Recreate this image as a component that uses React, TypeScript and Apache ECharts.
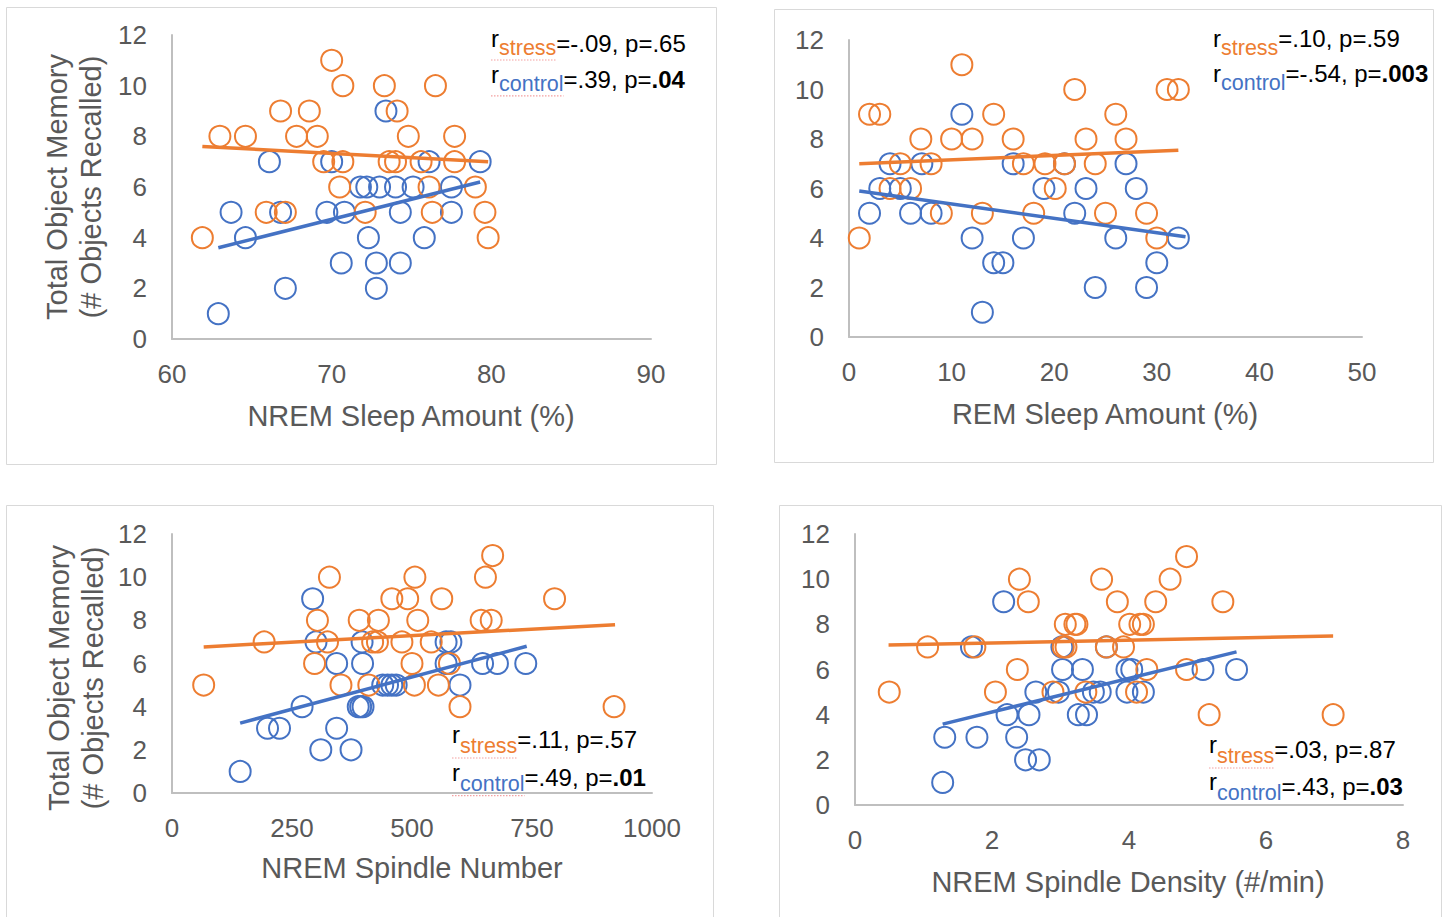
import React, { useEffect, useRef } from "react";
import * as echarts from "echarts";

const FONT = "'Liberation Sans', Arial, Helvetica, sans-serif";
const ORANGE = "#ED7D31";
const BLUE = "#4472C4";
const GRAY_TEXT = "#595959";

// ---------- Panel 1: NREM Sleep Amount (%) ----------
const nremPctStress = [
  [70.0, 11], [70.7, 10], [73.3, 10], [76.5, 10], [66.8, 9], [68.6, 9], [74.1, 9],
  [63.0, 8], [64.6, 8], [67.8, 8], [69.1, 8], [74.8, 8], [77.7, 8],
  [69.5, 7], [70.7, 7], [73.6, 7], [74.0, 7], [75.6, 7], [77.7, 7],
  [70.5, 6], [76.1, 6], [79.0, 6], [65.9, 5], [67.1, 5], [72.1, 5], [76.3, 5], [79.6, 5],
  [61.9, 4], [79.8, 4],
];
const nremPctControl = [
  [73.4, 9], [66.1, 7], [70.0, 7], [76.1, 7], [79.3, 7],
  [71.8, 6], [72.2, 6], [73.0, 6], [74.0, 6], [75.1, 6], [77.5, 6],
  [63.7, 5], [66.8, 5], [69.7, 5], [70.8, 5], [74.3, 5], [77.5, 5],
  [64.6, 4], [72.3, 4], [75.8, 4], [70.6, 3], [72.8, 3], [74.3, 3], [67.1, 2], [72.8, 2], [62.9, 1],
];
const nremPctStressTrend = [[61.9, 7.6], [79.8, 7.0]];
const nremPctControlTrend = [[62.9, 3.6], [79.3, 6.2]];

// ---------- Panel 2: REM Sleep Amount (%) ----------
const remPctStress = [
  [11.0, 11], [22.0, 10], [31.0, 10], [32.1, 10], [2.0, 9], [3.0, 9], [14.1, 9], [26.0, 9],
  [7.0, 8], [10.0, 8], [12.0, 8], [16.0, 8], [23.1, 8], [27.0, 8],
  [5.0, 7], [8.0, 7], [17.0, 7], [19.1, 7], [21.0, 7], [24.0, 7],
  [4.0, 6], [6.0, 6], [20.1, 6], [9.0, 5], [13.0, 5], [18.0, 5], [25.0, 5], [29.0, 5],
  [1.0, 4], [30.0, 4],
];
const remPctControl = [
  [11.0, 9], [4.0, 7], [7.1, 7], [16.0, 7], [21.0, 7], [27.0, 7],
  [3.0, 6], [5.0, 6], [19.0, 6], [23.1, 6], [28.0, 6],
  [2.0, 5], [6.0, 5], [8.0, 5], [22.0, 5], [12.0, 4], [17.0, 4], [26.0, 4], [32.1, 4],
  [14.1, 3], [15.0, 3], [30.0, 3], [24.0, 2], [29.0, 2], [13.0, 1],
];
const remPctStressTrend = [[1.0, 7.0], [32.1, 7.55]];
const remPctControlTrend = [[1.0, 5.9], [32.8, 4.05]];

// ---------- Panel 3: NREM Spindle Number ----------
const spindleNumStress = [
  [668, 11], [328, 10], [506, 10], [653, 10], [458, 9], [491, 9], [562, 9], [797, 9],
  [303, 8], [390, 8], [430, 8], [512, 8], [644, 8], [665, 8],
  [192, 7], [324, 7], [418, 7], [428, 7], [479, 7], [540, 7],
  [297, 6], [500, 6], [578, 6], [66, 5], [352, 5], [410, 5], [505, 5], [555, 5],
  [600, 4], [921, 4],
];
const spindleNumControl = [
  [293, 9], [300, 7], [396, 7], [571, 7], [581, 7],
  [343, 6], [397, 6], [571, 6], [647, 6], [678, 6], [737, 6],
  [439, 5], [449, 5], [458, 5], [467, 5], [600, 5],
  [271, 4], [388, 4], [393, 4], [398, 4], [199, 3], [224, 3], [343, 3],
  [310, 2], [373, 2], [142, 1],
];
const spindleNumStressTrend = [[66, 6.77], [923, 7.8]];
const spindleNumControlTrend = [[142, 3.24], [739, 6.8]];

// ---------- Panel 4: NREM Spindle Density (#/min) ----------
const spindleDenStress = [
  [4.84, 11], [2.40, 10], [3.60, 10], [4.60, 10], [2.53, 9], [3.83, 9], [4.39, 9], [5.37, 9],
  [3.07, 8], [3.21, 8], [3.24, 8], [4.01, 8], [4.16, 8], [4.21, 8],
  [1.06, 7], [1.75, 7], [3.04, 7], [3.08, 7], [3.67, 7], [3.92, 7],
  [2.37, 6], [4.26, 6], [4.84, 6], [0.50, 5], [2.05, 5], [2.89, 5], [3.37, 5], [4.11, 5],
  [5.17, 4], [6.98, 4],
];
const spindleDenControl = [
  [2.17, 9], [1.70, 7], [3.02, 7], [3.67, 7],
  [3.03, 6], [3.32, 6], [3.97, 6], [4.04, 6], [5.08, 6], [5.57, 6],
  [2.64, 5], [2.97, 5], [3.48, 5], [3.58, 5], [3.97, 5], [4.21, 5],
  [2.22, 4], [2.54, 4], [3.26, 4], [3.38, 4], [1.31, 3], [1.78, 3], [2.36, 3],
  [2.49, 2], [2.69, 2], [1.28, 1],
];
const spindleDenStressTrend = [[0.49, 7.08], [6.98, 7.48]];
const spindleDenControlTrend = [[1.28, 3.58], [5.57, 6.78]];

// ---------- Axis ticks / labels ----------
const yTicks = { min: 0, max: 12, interval: 2 };
const xTicks = [
  { min: 60, max: 90, interval: 10 },
  { min: 0, max: 50, interval: 10 },
  { min: 0, max: 1000, interval: 250 },
  { min: 0, max: 8, interval: 2 },
];
const xTitles = [
  "NREM Sleep Amount (%)",
  "REM Sleep Amount (%)",
  "NREM Spindle Number",
  "NREM Spindle Density (#/min)",
];
const yTitle = "Total Object Memory\n(# Objects Recalled)";

// stats text: [stress r/p, control r, control p (bold)]
const statsStress = ["=-.09, p=.65", "=.10, p=.59", "=.11, p=.57", "=.03, p=.87"];
const statsControlR = ["=.39, p=", "=-.54, p=", "=.49, p=", "=.43, p="];
const statsControlP = [".04", ".003", ".01", ".03"];

// ---------- layout (positions only) ----------
const grids = [
  { left: 172, top: 35, width: 479, height: 304 },
  { left: 849, top: 40, width: 513, height: 297 },
  { left: 172, top: 534, width: 480, height: 259 },
  { left: 855, top: 534, width: 548, height: 271 },
];
const boxes = [
  { x: 6.5, y: 7.5, width: 710, height: 457 },
  { x: 774.5, y: 9.5, width: 659, height: 453 },
  { x: 6.5, y: 505.5, width: 707, height: 430 },
  { x: 779.5, y: 505.5, width: 662, height: 430 },
];
const xTitlePos = [
  [411, 416],
  [1105, 414],
  [412, 868],
  [1128, 882],
];
const yTitlePos = [
  [74, 187],
  [76, 678],
];
const statPos = [
  { x: 491, b1: 51.5, b2: 87.4, rDy: -5, sDy: 4.5, squiggle: true },
  { x: 1213, b1: 47, b2: 81.5, rDy: 0, sDy: 9, squiggle: false },
  { x: 452, b1: 748, b2: 785.7, rDy: -5, sDy: 6, squiggle: true },
  { x: 1209, b1: 758, b2: 795, rDy: -5, sDy: 6, squiggle: true },
];

const MAIN = 24;
const SUB = 21.5;
const TICK = 26;
const TITLE = 29;

let measureCtx: CanvasRenderingContext2D | null = null;
function measure(text: string, size: number, bold = false) {
  if (!measureCtx) measureCtx = document.createElement("canvas").getContext("2d");
  measureCtx!.font = `${bold ? "bold " : ""}${size}px ${FONT}`;
  return measureCtx!.measureText(text).width;
}

type Part = { t: string; size: number; color: string; dy: number; bold?: boolean };

function statLine(x: number, baseline: number, parts: Part[], squiggle: boolean) {
  const els: any[] = [];
  let cx = x;
  let subEnd = x;
  parts.forEach((p, i) => {
    els.push({
      type: "text",
      x: cx,
      y: baseline + p.dy - 0.35 * p.size,
      silent: true,
      style: {
        text: p.t,
        fill: p.color,
        fontSize: p.size,
        fontFamily: FONT,
        fontWeight: p.bold ? "bold" : "normal",
        align: "left",
        verticalAlign: "middle",
      },
    });
    cx += measure(p.t, p.size, p.bold);
    if (i === 1) subEnd = cx;
  });
  if (squiggle) {
    const y = baseline + parts[1].dy + 4;
    els.push({
      type: "line",
      silent: true,
      shape: { x1: x, y1: y, x2: subEnd, y2: y },
      style: { stroke: "#F4A0A0", lineWidth: 1.2, lineDash: [1.5, 1.5] },
    });
  }
  return els;
}

const panels = [
  { s: nremPctStress, c: nremPctControl, st: nremPctStressTrend, ct: nremPctControlTrend },
  { s: remPctStress, c: remPctControl, st: remPctStressTrend, ct: remPctControlTrend },
  { s: spindleNumStress, c: spindleNumControl, st: spindleNumStressTrend, ct: spindleNumControlTrend },
  { s: spindleDenStress, c: spindleDenControl, st: spindleDenStressTrend, ct: spindleDenControlTrend },
];

function buildOption() {
  const graphic: any[] = [];
  boxes.forEach((b) =>
    graphic.push({
      type: "rect",
      silent: true,
      z: -10,
      shape: b,
      style: { fill: "none", stroke: "#D9D9D9", lineWidth: 1 },
    })
  );
  xTitles.forEach((t, i) =>
    graphic.push({
      type: "text",
      x: xTitlePos[i][0],
      y: xTitlePos[i][1],
      silent: true,
      style: {
        text: t,
        fill: GRAY_TEXT,
        fontSize: TITLE,
        fontFamily: FONT,
        align: "center",
        verticalAlign: "middle",
      },
    })
  );
  yTitlePos.forEach((p) =>
    graphic.push({
      type: "text",
      x: p[0],
      y: p[1],
      rotation: Math.PI / 2,
      silent: true,
      style: {
        text: yTitle,
        fill: GRAY_TEXT,
        fontSize: TITLE,
        lineHeight: 34,
        fontFamily: FONT,
        align: "center",
        verticalAlign: "middle",
      },
    })
  );
  statPos.forEach((sp, i) => {
    graphic.push(
      ...statLine(
        sp.x,
        sp.b1,
        [
          { t: "r", size: MAIN, color: "#000", dy: sp.rDy },
          { t: "stress", size: SUB, color: ORANGE, dy: sp.sDy },
          { t: statsStress[i], size: MAIN, color: "#000", dy: 0 },
        ],
        sp.squiggle
      )
    );
    graphic.push(
      ...statLine(
        sp.x,
        sp.b2,
        [
          { t: "r", size: MAIN, color: "#000", dy: sp.rDy },
          { t: "control", size: SUB, color: BLUE, dy: sp.sDy },
          { t: statsControlR[i], size: MAIN, color: "#000", dy: 0 },
          { t: statsControlP[i], size: MAIN, color: "#000", dy: 0, bold: true },
        ],
        sp.squiggle
      )
    );
  });

  const axisLine = { show: true, onZero: false, lineStyle: { color: "#BFBFBF", width: 2 } };
  const axisLabel = {
    color: GRAY_TEXT,
    fontSize: TICK,
    fontFamily: FONT,
    formatter: (v: number) => String(v),
  };

  const xAxis = xTicks.map((t, i) => ({
    gridIndex: i,
    type: "value",
    min: t.min,
    max: t.max,
    interval: t.interval,
    axisLine,
    axisTick: { show: false },
    splitLine: { show: false },
    axisLabel: { ...axisLabel, margin: 22 },
  }));
  const yAxis = grids.map((_, i) => ({
    gridIndex: i,
    type: "value",
    min: yTicks.min,
    max: yTicks.max,
    interval: yTicks.interval,
    axisLine,
    axisTick: { show: false },
    splitLine: { show: false },
    axisLabel: { ...axisLabel, margin: 25 },
  }));

  const series: any[] = [];
  panels.forEach((p, i) => {
    const scatter = (data: number[][], color: string, name: string) => ({
      type: "scatter",
      name,
      xAxisIndex: i,
      yAxisIndex: i,
      data,
      symbol: "circle",
      symbolSize: 21,
      itemStyle: { color: "rgba(0,0,0,0)", borderColor: color, borderWidth: 2, opacity: 1 },
      emphasis: { disabled: true },
      z: 2,
    });
    const trend = (data: number[][], color: string, name: string) => ({
      type: "line",
      name,
      xAxisIndex: i,
      yAxisIndex: i,
      data,
      symbol: "none",
      lineStyle: { color, width: 3.5 },
      emphasis: { disabled: true },
      z: 3,
    });
    series.push(scatter(p.c, BLUE, "control"));
    series.push(scatter(p.s, ORANGE, "stress"));
    series.push(trend(p.ct, BLUE, "control trend"));
    series.push(trend(p.st, ORANGE, "stress trend"));
  });

  return {
    animation: false,
    backgroundColor: "#ffffff",
    grid: grids.map((g) => ({ ...g, containLabel: false })),
    xAxis,
    yAxis,
    series,
    graphic: { elements: graphic },
  };
}

export default function App() {
  const ref = useRef<HTMLDivElement>(null);
  useEffect(() => {
    if (!ref.current) return;
    const chart = echarts.init(ref.current, undefined, { renderer: "svg" });
    chart.setOption(buildOption() as any);
    return () => chart.dispose();
  }, []);
  return (
    <div
      ref={ref}
      style={{ position: "fixed", left: 0, top: 0, width: 1447, height: 917, background: "#fff" }}
    />
  );
}
